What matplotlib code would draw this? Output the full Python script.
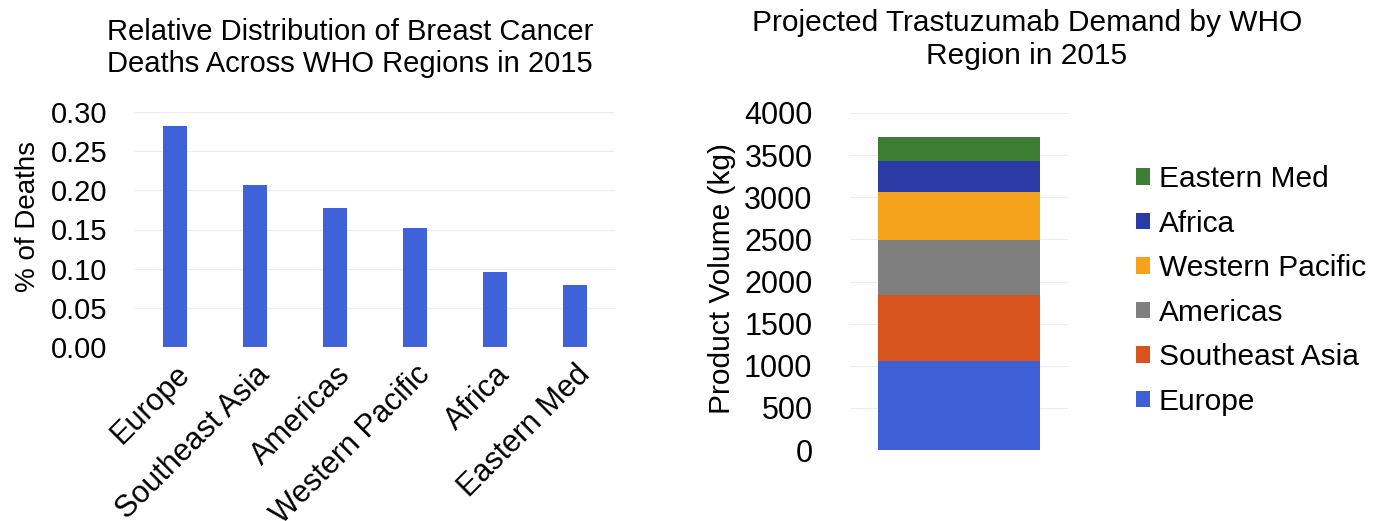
import matplotlib
matplotlib.use("Agg")
import matplotlib.pyplot as plt
import numpy as np

plt.rcParams['font.family'] = ['Liberation Sans', 'DejaVu Sans']

regions = ["Europe", "Southeast Asia", "Americas", "Western Pacific", "Africa", "Eastern Med"]
death_share = [0.282, 0.207, 0.178, 0.152, 0.096, 0.079]
demand_kg = [1059, 785, 654, 570, 361, 286]
stack_colors = ["#3F5FD6", "#D8541E", "#7F7F7F", "#F5A31D", "#2A3BA6", "#3E7D34"]
left_color = "#4062D8"
left_ticks = [0.00, 0.05, 0.10, 0.15, 0.20, 0.25, 0.30]
right_ticks = [0, 500, 1000, 1500, 2000, 2500, 3000, 3500, 4000]
left_title = "Relative Distribution of Breast Cancer\nDeaths Across WHO Regions in 2015"
right_title = "Projected Trastuzumab Demand by WHO\nRegion in 2015"

W, H = 1382, 521
fig = plt.figure(figsize=(W/100, H/100), dpi=100)

# Left chart
ax1 = fig.add_axes([135/W, (H-347)/H, 480/W, (347-112)/H])
x = np.arange(len(regions))
ax1.bar(x, death_share, width=0.31, color=left_color, zorder=3)
ax1.set_xlim(-0.5, len(regions)-0.5)
ax1.set_ylim(0, 0.30)
ax1.set_yticks(left_ticks)
ax1.set_yticklabels([f"{v:.2f}" for v in left_ticks], fontsize=21)
ax1.set_xticks(x)
ax1.set_xticklabels(regions, rotation=45, ha="right", rotation_mode="anchor", fontsize=22)
ax1.tick_params(axis="y", length=0, pad=20)
ax1.tick_params(axis="x", length=0, pad=9)
ax1.grid(axis="y", color="#EDEDED", linewidth=0.8, zorder=0)
for s in ax1.spines.values():
    s.set_visible(False)
ax1.set_ylabel("% of Deaths", fontsize=20)
ax1.yaxis.set_label_coords((41-135)/480, (347-217)/235)
fig.text(350/W, 1-18/H, left_title, ha="center", va="top", fontsize=21, linespacing=1.2)

# Right chart
ax2 = fig.add_axes([850/W, (H-450)/H, 218/W, (450-113)/H])
bottom = 0
handles = []
for name, val, col in zip(regions, demand_kg, stack_colors):
    b = ax2.bar([0], [val], bottom=bottom, width=0.743, color=col, label=name, zorder=3)
    handles.append(b)
    bottom += val
ax2.set_xlim(-0.5, 0.5)
ax2.set_ylim(0, 4000)
ax2.set_yticks(right_ticks)
ax2.set_yticklabels([str(v) for v in right_ticks], fontsize=22)
ax2.set_xticks([])
ax2.tick_params(axis="y", length=0, pad=27)
ax2.grid(axis="y", color="#EDEDED", linewidth=0.8, zorder=0)
for s in ax2.spines.values():
    s.set_visible(False)
ax2.set_ylabel("Product Volume (kg)", fontsize=21.5)
ax2.yaxis.set_label_coords((736-850)/218, (450-279)/337)
fig.text(1027/W, 1-9/H, right_title, ha="center", va="top", fontsize=21.5, linespacing=1.22)

leg = fig.legend(handles[::-1], regions[::-1], loc="upper left",
                 bbox_to_anchor=(1136/W, (H-165)/H), frameon=False,
                 fontsize=21.5, handlelength=0.47, handleheight=0.47,
                 handletextpad=0.3, labelspacing=0.555, borderaxespad=0, borderpad=0)

fig.savefig("out.png", dpi=100)
